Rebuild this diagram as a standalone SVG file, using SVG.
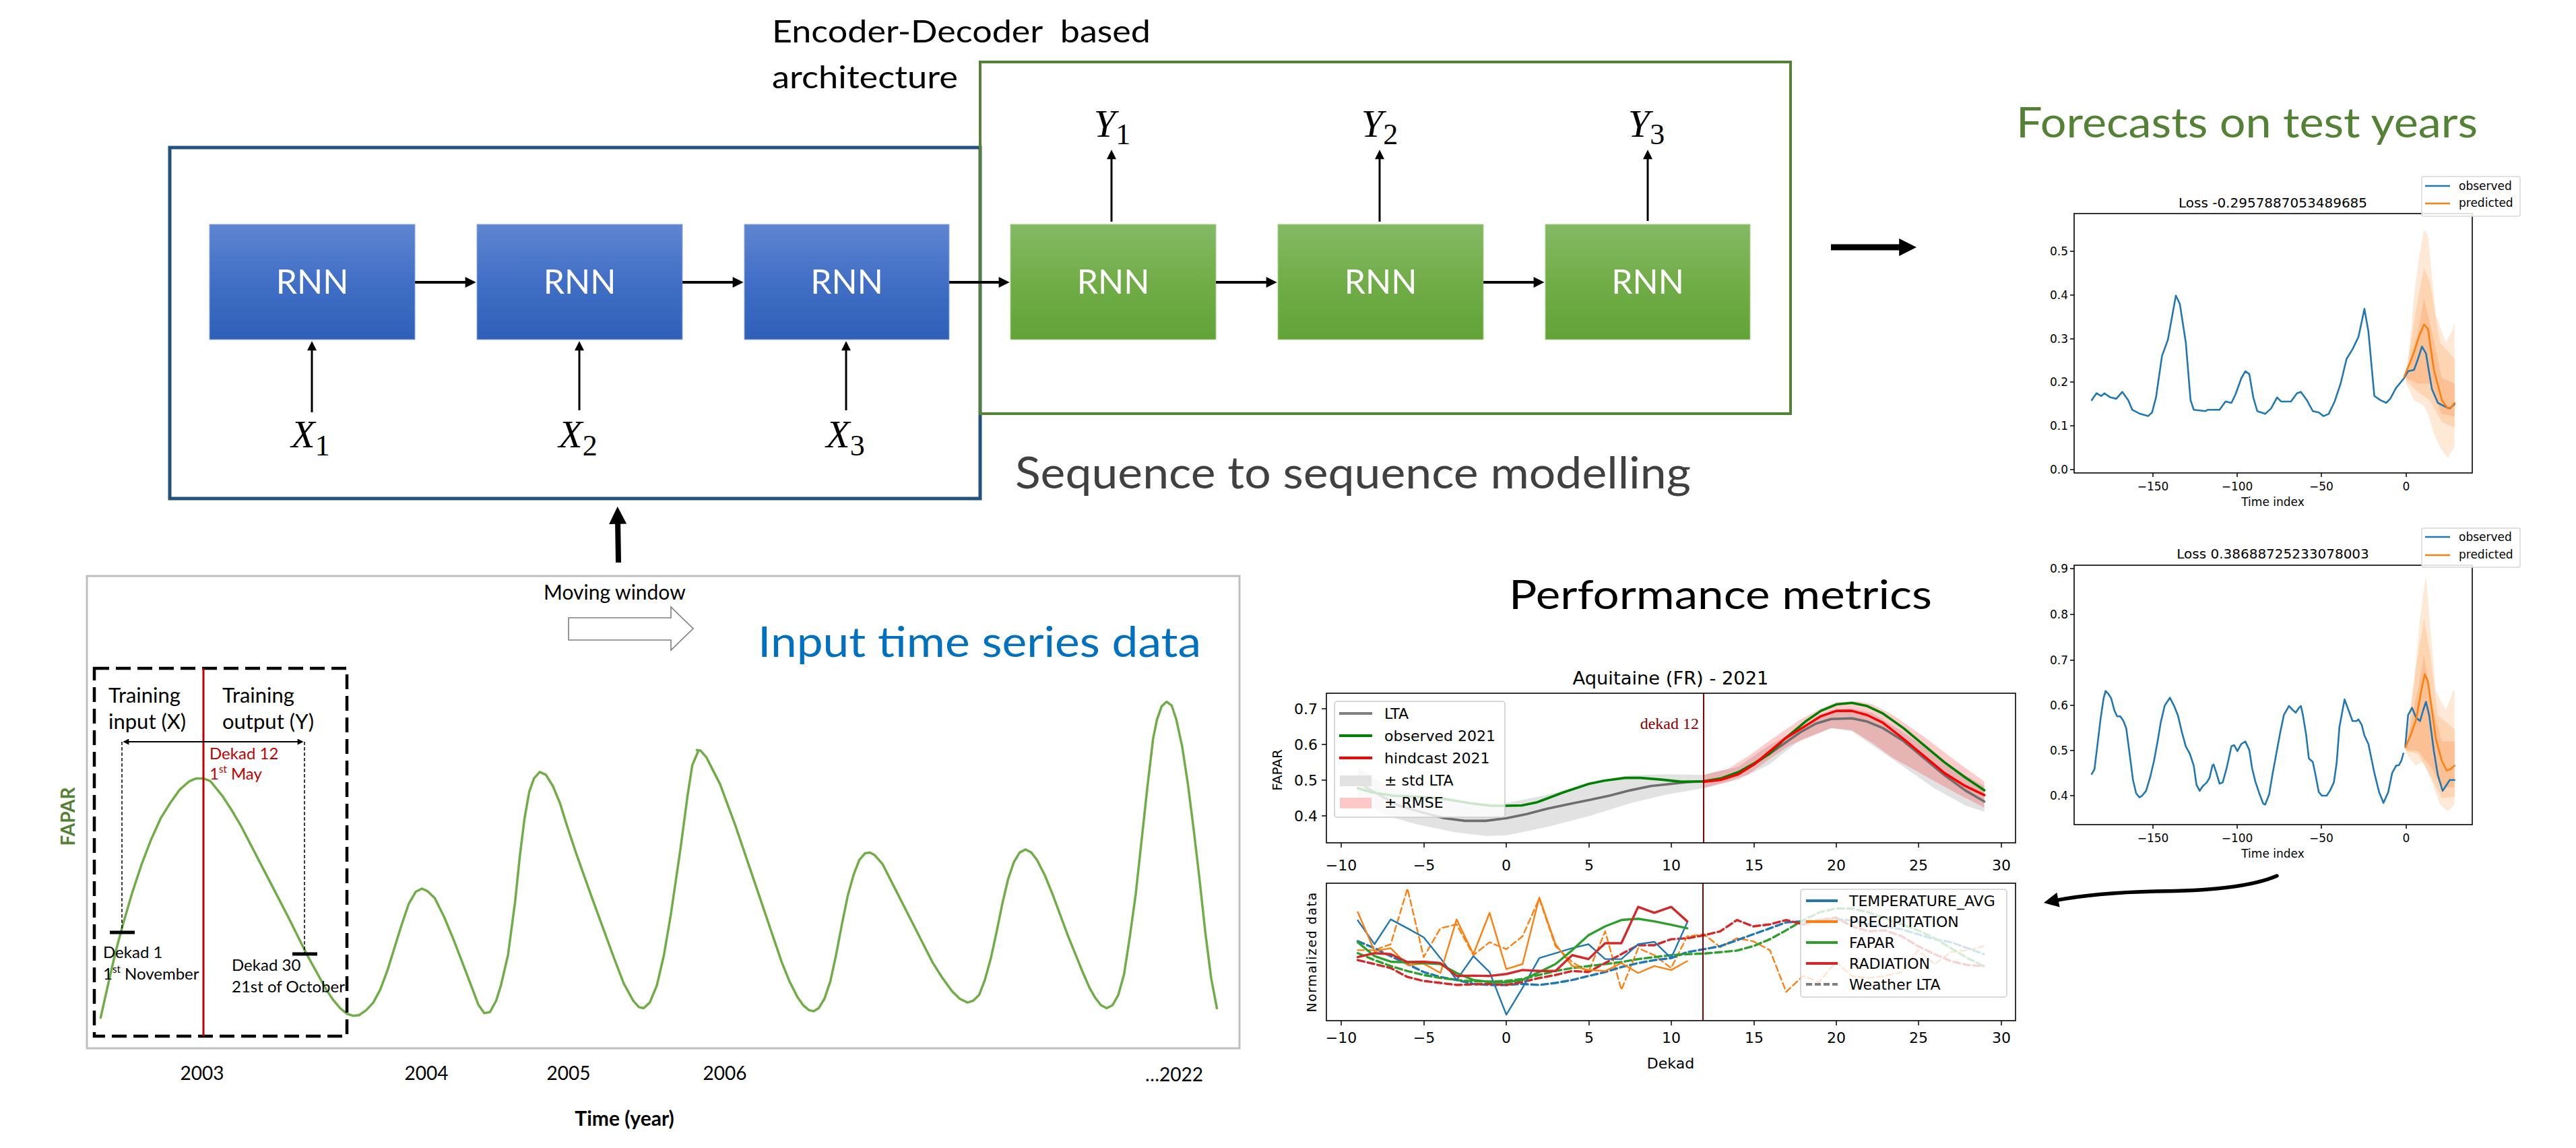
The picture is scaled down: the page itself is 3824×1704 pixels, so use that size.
<svg xmlns="http://www.w3.org/2000/svg" width="3824" height="1704" viewBox="0 0 3824 1704">
<defs>
<style>
.cal{font-family:Lato,"Open Sans",sans-serif}
.mpl{font-family:"DejaVu Sans",sans-serif}
.math{font-family:"Liberation Serif",serif;font-style:italic;font-size:58px}
.sub{font-size:44px;font-style:normal}
.rnn{font-family:Lato,"Open Sans",sans-serif;font-size:50px;fill:#fff;text-anchor:middle}
.ns{vector-effect:non-scaling-stroke;fill:none;stroke-linejoin:round;stroke-linecap:round}
.ax{fill:none;stroke:#000;stroke-width:1.6}
.tk{stroke:#000;stroke-width:1.5}
.t16{font-size:17px}
.t22{font-size:22px}
</style>
<linearGradient id="gBlue" x1="0" y1="0" x2="0" y2="1"><stop offset="0" stop-color="#5f85cf"/><stop offset="0.5" stop-color="#416fc6"/><stop offset="1" stop-color="#2f5fb7"/></linearGradient>
<linearGradient id="gGreen" x1="0" y1="0" x2="0" y2="1"><stop offset="0" stop-color="#84b965"/><stop offset="0.5" stop-color="#71ad47"/><stop offset="1" stop-color="#62a338"/></linearGradient>
<marker id="ah" viewBox="0 0 10 10" refX="3" refY="5" markerWidth="18" markerHeight="16" markerUnits="userSpaceOnUse" orient="auto"><path d="M0,0L10,5L0,10z" fill="#000"/></marker>
<marker id="ahs" viewBox="0 0 10 10" refX="3" refY="5" markerWidth="17" markerHeight="14" markerUnits="userSpaceOnUse" orient="auto"><path d="M0,0L10,5L0,10z" fill="#000"/></marker>
<marker id="ahb" viewBox="0 0 10 10" refX="3" refY="5" markerWidth="26" markerHeight="26" markerUnits="userSpaceOnUse" orient="auto"><path d="M0,0L10,5L0,10z" fill="#000"/></marker>
<marker id="ahc" viewBox="0 0 10 10" refX="3" refY="5" markerWidth="24" markerHeight="22" markerUnits="userSpaceOnUse" orient="auto"><path d="M0,0L10,5L0,10z" fill="#000"/></marker>
<marker id="aht" viewBox="0 0 10 10" refX="3" refY="5" markerWidth="11" markerHeight="9" markerUnits="userSpaceOnUse" orient="auto-start-reverse"><path d="M0,0L10,5L0,10z" fill="#000"/></marker>
</defs>
<rect width="3824" height="1704" fill="#fff"/>

<!-- Encoder-decoder frames -->
<g id="encoder-frame"><rect x="252" y="219" width="1203" height="521" fill="none" stroke="#22507f" stroke-width="5"/></g>
<g id="decoder-frame"><rect x="1455" y="92" width="1203" height="522" fill="none" stroke="#548235" stroke-width="4"/></g>
<g id="title-encdec"><text class="cal" x="1146" y="63" font-size="46" xml:space="preserve" style="white-space:pre" textLength="562" lengthAdjust="spacingAndGlyphs">Encoder-Decoder  based</text><text class="cal" x="1146" y="131" font-size="46" textLength="276" lengthAdjust="spacingAndGlyphs">architecture</text></g>

<!-- encoder RNNs -->
<g id="enc1"><rect x="311" y="333" width="305" height="171" fill="url(#gBlue)" stroke="#8faadc" stroke-width="1"/><text class="rnn" x="463.5" y="436">RNN</text></g>
<g id="enc2"><rect x="708" y="333" width="305" height="171" fill="url(#gBlue)" stroke="#8faadc" stroke-width="1"/><text class="rnn" x="860.5" y="436">RNN</text></g>
<g id="enc3"><rect x="1105" y="333" width="304" height="171" fill="url(#gBlue)" stroke="#8faadc" stroke-width="1"/><text class="rnn" x="1257" y="436">RNN</text></g>
<!-- decoder RNNs -->
<g id="dec1"><rect x="1500" y="333" width="305" height="171" fill="url(#gGreen)" stroke="#a9d18e" stroke-width="1"/><text class="rnn" x="1652.5" y="436">RNN</text></g>
<g id="dec2"><rect x="1897" y="333" width="305" height="171" fill="url(#gGreen)" stroke="#a9d18e" stroke-width="1"/><text class="rnn" x="2049.5" y="436">RNN</text></g>
<g id="dec3"><rect x="2294" y="333" width="304" height="171" fill="url(#gGreen)" stroke="#a9d18e" stroke-width="1"/><text class="rnn" x="2446" y="436">RNN</text></g>

<!-- X / Y labels -->
<g id="x1"><text class="math" x="461" y="664" text-anchor="middle">X<tspan class="sub" dy="12">1</tspan></text></g>
<g id="x2"><text class="math" x="858" y="664" text-anchor="middle">X<tspan class="sub" dy="12">2</tspan></text></g>
<g id="x3"><text class="math" x="1255" y="664" text-anchor="middle">X<tspan class="sub" dy="12">3</tspan></text></g>
<g id="y1"><text class="math" x="1651" y="203" text-anchor="middle">Y<tspan class="sub" dy="11">1</tspan></text></g>
<g id="y2"><text class="math" x="2048" y="203" text-anchor="middle">Y<tspan class="sub" dy="11">2</tspan></text></g>
<g id="y3"><text class="math" x="2444" y="203" text-anchor="middle">Y<tspan class="sub" dy="11">3</tspan></text></g>

<g id="seq-title"><text class="cal" x="1507" y="725" font-size="65" fill="#404040" textLength="1003" lengthAdjust="spacingAndGlyphs">Sequence to sequence modelling</text></g>

<!-- connectors -->
<g id="connectors" stroke="#000" fill="none">
<line x1="616" y1="419" x2="695.4" y2="419" stroke-width="4" marker-end="url(#ah)"/>
<line x1="1013" y1="419" x2="1092.4" y2="419" stroke-width="4" marker-end="url(#ah)"/>
<line x1="1409" y1="419" x2="1487.4" y2="419" stroke-width="4" marker-end="url(#ah)"/>
<line x1="1805" y1="419" x2="1884.4" y2="419" stroke-width="4" marker-end="url(#ah)"/>
<line x1="2202" y1="419" x2="2281.4" y2="419" stroke-width="4" marker-end="url(#ah)"/>
<line x1="463" y1="612" x2="463" y2="516" stroke-width="3" marker-end="url(#ahs)"/>
<line x1="860" y1="609" x2="860" y2="516" stroke-width="3" marker-end="url(#ahs)"/>
<line x1="1256" y1="609" x2="1256" y2="516" stroke-width="3" marker-end="url(#ahs)"/>
<line x1="1650" y1="329" x2="1650" y2="232" stroke-width="3" marker-end="url(#ahs)"/>
<line x1="2048" y1="329" x2="2048" y2="232" stroke-width="3" marker-end="url(#ahs)"/>
<line x1="2446" y1="328" x2="2446" y2="232" stroke-width="3" marker-end="url(#ahs)"/>
<line x1="918" y1="835" x2="917" y2="770" stroke-width="8" marker-end="url(#ahb)"/>
<line x1="2718" y1="367" x2="2827" y2="367" stroke-width="9" marker-end="url(#ahb)"/>
<path d="M3380,1300 Q3330,1322 3200,1323 Q3110,1325 3049,1337" stroke-width="5.5" stroke-linecap="round" marker-end="url(#ahc)"/>
</g>

<!-- Forecasts -->
<g id="forecast-title"><text class="cal" x="2993" y="204" font-size="62" fill="#548235" textLength="685" lengthAdjust="spacingAndGlyphs">Forecasts on test years</text></g>

<g id="forecast-plot-1">
<g transform="translate(2900,100) scale(0.5893,0.4082)">
<polygon fill="#fee8d6" points="1140,1120 1150,1000 1160,830 1172,700 1185,590 1195,610 1205,760 1215,900 1240,1000 1255,960 1262,930 1262,1380 1245,1420 1225,1380 1210,1330 1195,1260 1185,1230 1160,1210 1140,1150"/>
<polygon fill="#fdd5b2" points="1140,1110 1165,880 1185,730 1200,780 1225,1000 1262,1060 1262,1310 1230,1290 1200,1210 1170,1180 1140,1140"/>
<polygon fill="#fbc195" points="1140,1120 1170,960 1185,840 1205,960 1230,1130 1262,1150 1262,1270 1230,1260 1200,1150 1170,1150 1140,1130"/>
<polyline class="ns" stroke="#1f77b4" stroke-width="2.6" points="348,1210 360,1185 372,1195 380,1185 395,1200 410,1205 425,1180 440,1210 450,1245 470,1260 490,1268 500,1255 510,1200 525,1050 540,990 560,830 570,860 585,1000 597,1210 605,1245 635,1250 640,1245 670,1245 685,1215 700,1220 710,1190 725,1130 735,1105 745,1115 755,1200 765,1250 775,1255 785,1260 800,1240 815,1200 825,1215 850,1215 865,1185 875,1180 890,1210 905,1250 920,1255 932,1268 945,1260 960,1215 975,1150 990,1060 1005,1025 1020,980 1035,878 1045,960 1060,1195 1075,1210 1090,1220 1100,1205 1115,1165 1135,1130 1145,1105 1160,1100 1170,1060 1180,1015 1190,1040 1205,1170 1220,1220 1240,1235 1250,1240 1262,1225"/>
<polyline class="ns" stroke="#ff7f0e" stroke-width="2.6" points="1135,1125 1148,1080 1160,1035 1172,980 1185,935 1195,950 1210,1100 1230,1210 1245,1240 1255,1235 1262,1220"/>
</g>
<rect class="ax" x="3079" y="317" width="591" height="385"/>
<g class="mpl t16" text-anchor="end">
<line class="tk" x1="3073" y1="697" x2="3079" y2="697"/><text x="3070" y="703">0.0</text>
<line class="tk" x1="3073" y1="632" x2="3079" y2="632"/><text x="3070" y="638">0.1</text>
<line class="tk" x1="3073" y1="567" x2="3079" y2="567"/><text x="3070" y="573">0.2</text>
<line class="tk" x1="3073" y1="503" x2="3079" y2="503"/><text x="3070" y="509">0.3</text>
<line class="tk" x1="3073" y1="438" x2="3079" y2="438"/><text x="3070" y="444">0.4</text>
<line class="tk" x1="3073" y1="373" x2="3079" y2="373"/><text x="3070" y="379">0.5</text>
</g>
<g class="mpl t16" text-anchor="middle">
<line class="tk" x1="3196" y1="702" x2="3196" y2="708"/><text x="3196" y="728">−150</text>
<line class="tk" x1="3321" y1="702" x2="3321" y2="708"/><text x="3321" y="728">−100</text>
<line class="tk" x1="3446" y1="702" x2="3446" y2="708"/><text x="3446" y="728">−50</text>
<line class="tk" x1="3572" y1="702" x2="3572" y2="708"/><text x="3572" y="728">0</text>
<text x="3374" y="751">Time index</text>
<text x="3374" y="308" font-size="20">Loss -0.2957887053489685</text>
</g>
<rect x="3595" y="262" width="146" height="59" rx="3" fill="#fff" fill-opacity="0.85" stroke="#d8d8d8" stroke-width="1.5"/>
<line x1="3600" y1="276" x2="3637" y2="276" stroke="#1f77b4" stroke-width="2.6"/>
<line x1="3600" y1="302" x2="3637" y2="302" stroke="#ff7f0e" stroke-width="2.6"/>
<text class="mpl t16" x="3650" y="282">observed</text>
<text class="mpl t16" x="3650" y="307">predicted</text>
</g>

<g id="forecast-plot-2">
<g transform="translate(2900,740) scale(0.5893,0.3571)">
<polygon fill="#fee8d6" points="1140,1010 1160,760 1175,500 1190,320 1200,520 1215,800 1240,880 1258,800 1262,800 1262,1270 1245,1300 1225,1270 1210,1200 1185,1090 1165,1110 1140,1060"/>
<polygon fill="#fdd5b2" points="1140,1020 1165,700 1185,500 1200,640 1220,900 1262,960 1262,1240 1230,1245 1200,1150 1170,1060 1140,1050"/>
<polygon fill="#fbc195" points="1140,1030 1170,790 1185,650 1205,850 1230,1010 1262,1010 1262,1200 1230,1200 1205,1120 1170,1050 1140,1045"/>
<polyline class="ns" stroke="#1f77b4" stroke-width="2.6" points="348,1145 355,1125 362,1030 370,920 378,830 383,800 390,812 397,830 405,880 412,905 420,905 428,925 435,955 445,1080 452,1170 460,1225 468,1242 475,1235 485,1215 495,1160 505,1090 515,1000 522,930 532,860 545,828 555,860 565,900 575,970 585,1030 595,1060 605,1110 612,1190 620,1215 628,1195 638,1180 645,1160 652,1110 655,1105 662,1140 670,1185 678,1180 688,1120 700,1030 707,1025 715,1050 725,1020 735,1010 745,1045 752,1120 760,1175 770,1225 780,1268 785,1272 795,1230 803,1150 812,1070 822,980 832,900 845,862 855,880 862,890 870,870 875,862 880,900 888,980 895,1080 905,1095 912,1150 920,1220 928,1235 940,1235 948,1215 958,1180 965,1100 972,950 985,835 995,880 1005,925 1015,925 1020,918 1028,940 1035,985 1045,1020 1060,1140 1072,1220 1083,1265 1095,1220 1105,1140 1115,1110 1122,1108 1128,1090 1133,1060"/>
<polyline class="ns" stroke="#1f77b4" stroke-width="2.6" points="1138,1030 1145,900 1155,870 1165,910 1175,925 1183,880 1190,845 1198,900 1210,1050 1220,1150 1232,1215 1240,1195 1250,1170 1262,1170"/>
<polyline class="ns" stroke="#ff7f0e" stroke-width="2.6" points="1138,1035 1150,990 1165,920 1178,800 1187,730 1195,760 1205,880 1215,1000 1230,1090 1242,1130 1252,1125 1262,1110"/>
</g>
<rect class="ax" x="3079" y="839" width="591" height="385"/>
<g class="mpl t16" text-anchor="end">
<line class="tk" x1="3073" y1="1181" x2="3079" y2="1181"/><text x="3070" y="1187">0.4</text>
<line class="tk" x1="3073" y1="1114" x2="3079" y2="1114"/><text x="3070" y="1120">0.5</text>
<line class="tk" x1="3073" y1="1047" x2="3079" y2="1047"/><text x="3070" y="1053">0.6</text>
<line class="tk" x1="3073" y1="980" x2="3079" y2="980"/><text x="3070" y="986">0.7</text>
<line class="tk" x1="3073" y1="912" x2="3079" y2="912"/><text x="3070" y="918">0.8</text>
<line class="tk" x1="3073" y1="844" x2="3079" y2="844"/><text x="3070" y="850">0.9</text>
</g>
<g class="mpl t16" text-anchor="middle">
<line class="tk" x1="3196" y1="1224" x2="3196" y2="1230"/><text x="3196" y="1250">−150</text>
<line class="tk" x1="3321" y1="1224" x2="3321" y2="1230"/><text x="3321" y="1250">−100</text>
<line class="tk" x1="3446" y1="1224" x2="3446" y2="1230"/><text x="3446" y="1250">−50</text>
<line class="tk" x1="3572" y1="1224" x2="3572" y2="1230"/><text x="3572" y="1250">0</text>
<text x="3374" y="1273">Time index</text>
<text x="3374" y="829" font-size="20">Loss 0.38688725233078003</text>
</g>
<rect x="3595" y="784" width="146" height="58" rx="3" fill="#fff" fill-opacity="0.85" stroke="#d8d8d8" stroke-width="1.5"/>
<line x1="3600" y1="797" x2="3637" y2="797" stroke="#1f77b4" stroke-width="2.6"/>
<line x1="3600" y1="824" x2="3637" y2="824" stroke="#ff7f0e" stroke-width="2.6"/>
<text class="mpl t16" x="3650" y="803">observed</text>
<text class="mpl t16" x="3650" y="829">predicted</text>
</g>

<!-- Performance metrics -->
<g id="perf-title"><text class="cal" x="2240" y="904" font-size="60" fill="#000" textLength="628" lengthAdjust="spacingAndGlyphs">Performance metrics</text></g>

<g id="aquitaine-plot">
<text class="mpl" x="2480" y="1016" font-size="26" text-anchor="middle" textLength="291" lengthAdjust="spacingAndGlyphs">Aquitaine (FR) - 2021</text>
<g transform="translate(1800,800) scale(0.7653,0.3189)">
<polygon fill="#e2e2e2" points="282,1060 330,1140 400,1195 470,1225 570,1230 650,1190 730,1140 810,1100 880,1095 952,1098 1020,1060 1080,960 1140,880 1200,800 1240,790 1280,810 1340,900 1400,1000 1460,1100 1497,1150 1497,1270 1460,1240 1400,1160 1340,1060 1280,960 1240,895 1200,880 1140,935 1080,1050 1020,1120 952,1160 880,1190 810,1230 730,1290 650,1340 570,1380 530,1382 470,1365 400,1330 340,1290 282,1210"/>
<polygon fill="#ff0000" fill-opacity="0.2" points="952,1098 1000,1070 1040,1010 1080,940 1140,840 1180,790 1210,760 1250,755 1280,770 1320,820 1380,920 1440,1030 1497,1130 1497,1250 1440,1180 1380,1100 1320,1020 1280,950 1240,890 1200,880 1160,920 1120,960 1080,1025 1040,1095 1000,1130 952,1160"/>
<polyline class="ns" stroke="#6e6e6e" stroke-width="3.6" points="282,1128 300,1160 330,1200 360,1240 410,1275 450,1300 490,1312 530,1312 570,1300 610,1280 650,1255 690,1235 730,1215 770,1195 810,1170 850,1150 890,1140 920,1132 952,1128 990,1115 1020,1090 1050,1050 1080,1000 1110,950 1140,900 1170,860 1200,838 1240,835 1270,850 1300,880 1340,940 1380,1020 1420,1100 1460,1170 1497,1222"/>
<polyline class="ns" stroke="#008000" stroke-width="3.6" points="282,1160 310,1180 350,1195 400,1200 450,1210 500,1230 540,1242 570,1242 600,1240 630,1225 680,1180 730,1140 760,1125 800,1112 830,1112 870,1120 910,1130 952,1128 985,1115 1020,1085 1050,1045 1080,1000 1110,930 1150,850 1180,800 1210,770 1240,763 1270,778 1300,812 1340,880 1380,960 1420,1040 1460,1110 1497,1170"/>
<polyline class="ns" stroke="#ff0000" stroke-width="3.6" points="952,1130 985,1122 1020,1095 1050,1050 1080,990 1110,930 1150,870 1180,825 1210,800 1240,800 1270,820 1300,855 1340,930 1380,1010 1420,1090 1460,1150 1497,1192"/>
</g>
<line x1="2529" y1="1029" x2="2529" y2="1251" stroke="#8b0000" stroke-width="2"/>
<text x="2522" y="1082" font-family="Liberation Serif,serif" font-size="24" fill="#8b0000" text-anchor="end">dekad 12</text>
<rect x="1981" y="1041" width="253" height="172" rx="4" fill="#fff" fill-opacity="0.8" stroke="#cccccc" stroke-width="1.5"/>
<line x1="1988" y1="1059" x2="2037" y2="1059" stroke="#808080" stroke-width="4"/>
<line x1="1988" y1="1092" x2="2037" y2="1092" stroke="#008000" stroke-width="4"/>
<line x1="1988" y1="1125" x2="2037" y2="1125" stroke="#ff0000" stroke-width="4"/>
<rect x="1989" y="1151" width="47" height="16" fill="#e2e2e2"/>
<rect x="1989" y="1184" width="47" height="16" fill="#fcc8c8"/>
<g class="mpl t22">
<text x="2055" y="1067">LTA</text>
<text x="2055" y="1100">observed 2021</text>
<text x="2055" y="1133">hindcast 2021</text>
<text x="2055" y="1166">± std LTA</text>
<text x="2055" y="1199">± RMSE</text>
</g>
<rect class="ax" x="1969" y="1029" width="1023" height="222"/>
<g class="mpl t22" text-anchor="end">
<line class="tk" x1="1962" y1="1052" x2="1969" y2="1052"/><text x="1956" y="1060">0.7</text>
<line class="tk" x1="1962" y1="1105" x2="1969" y2="1105"/><text x="1956" y="1113">0.6</text>
<line class="tk" x1="1962" y1="1158" x2="1969" y2="1158"/><text x="1956" y="1166">0.5</text>
<line class="tk" x1="1962" y1="1211" x2="1969" y2="1211"/><text x="1956" y="1219">0.4</text>
</g>
<text class="mpl" x="1903" y="1143" font-size="20" text-anchor="middle" transform="rotate(-90 1903 1143)">FAPAR</text>
<g class="mpl t22" text-anchor="middle">
<line class="tk" x1="1991" y1="1251" x2="1991" y2="1258"/><text x="1991" y="1292">−10</text>
<line class="tk" x1="2114" y1="1251" x2="2114" y2="1258"/><text x="2114" y="1292">−5</text>
<line class="tk" x1="2236" y1="1251" x2="2236" y2="1258"/><text x="2236" y="1292">0</text>
<line class="tk" x1="2359" y1="1251" x2="2359" y2="1258"/><text x="2359" y="1292">5</text>
<line class="tk" x1="2481" y1="1251" x2="2481" y2="1258"/><text x="2481" y="1292">10</text>
<line class="tk" x1="2604" y1="1251" x2="2604" y2="1258"/><text x="2604" y="1292">15</text>
<line class="tk" x1="2726" y1="1251" x2="2726" y2="1258"/><text x="2726" y="1292">20</text>
<line class="tk" x1="2848" y1="1251" x2="2848" y2="1258"/><text x="2848" y="1292">25</text>
<line class="tk" x1="2971" y1="1251" x2="2971" y2="1258"/><text x="2971" y="1292">30</text>
</g>
</g>

<g id="weather-plot">
<g transform="translate(1800,1277.7) scale(0.8291,0.2948)">
<polyline class="ns" stroke="#ff7f0e" stroke-width="2.4" stroke-dasharray="9 5" points="260,450 290,450 319,420 349,140 378,485 408,340 437,320 467,475 496,410 526,445 555,380 585,190 614,430 644,510 673,560 703,355 732,650 762,440 791,475 821,540 850,380 880,370 909,435 939,390 968,405 998,450 1027,660 1057,580 1086,610 1116,510 1145,580 1175,590 1204,580 1234,560 1263,450 1293,520 1322,460 1352,450 1381,430"/>
<polyline class="ns" stroke="#1f77b4" stroke-width="3.4" stroke-dasharray="10 5" points="260,405 290,440 319,480 349,520 378,560 408,585 437,600 467,620 496,625 526,625 555,620 585,625 614,615 644,600 673,580 703,560 732,535 762,515 791,500 821,490 850,460 880,445 909,430 939,400 968,370 998,340 1027,310 1057,305 1086,298 1116,295 1145,300 1175,320 1204,330 1234,345 1263,370 1293,395 1322,410 1352,440 1381,470"/>
<polyline class="ns" stroke="#2ca02c" stroke-width="3.4" stroke-dasharray="10 5" points="260,465 290,500 319,530 349,555 378,575 408,590 437,600 467,607 496,608 526,605 555,595 585,575 614,555 644,540 673,530 703,520 732,510 762,495 791,485 821,475 850,470 880,467 909,460 939,452 968,430 998,395 1027,350 1057,300 1086,260 1116,240 1145,240 1175,260 1204,290 1234,320 1263,350 1293,390 1322,440 1352,490 1381,530"/>
<polyline class="ns" stroke="#d62728" stroke-width="3.4" stroke-dasharray="10 5" points="260,500 290,520 319,540 349,585 378,605 408,615 437,625 467,622 496,620 526,625 555,610 585,590 614,575 644,555 673,560 703,515 732,470 762,425 791,425 821,395 850,390 880,375 909,355 939,298 968,330 998,320 1027,298 1057,320 1086,300 1116,285 1145,330 1175,355 1204,350 1234,380 1263,430 1293,470 1322,505 1352,525 1381,530"/>
<polyline class="ns" stroke="#1f77b4" stroke-width="2.4" points="260,300 290,420 319,295 349,340 378,385 408,490 437,600 467,480 496,560 526,775 555,640 585,490 614,465 644,440 673,420 703,495 732,495 762,420 791,408 821,490 850,310"/>
<polyline class="ns" stroke="#ff7f0e" stroke-width="2.4" points="260,258 290,455 319,440 349,525 378,518 408,565 437,295 467,470 496,262 526,545 555,520 585,185 614,420 644,530 673,550 703,555 732,515 762,565 791,530 821,550 850,505"/>
<polyline class="ns" stroke="#2ca02c" stroke-width="3.4" points="260,410 290,480 319,508 349,512 378,515 408,520 437,565 467,600 496,610 526,612 555,600 585,560 614,520 644,450 673,375 703,330 732,298 762,292 791,305 821,322 850,340"/>
<polyline class="ns" stroke="#d62728" stroke-width="3.4" points="260,485 290,465 319,470 349,510 378,508 408,515 437,580 467,578 496,580 526,570 555,550 585,555 614,555 644,475 673,495 703,415 732,415 762,232 791,262 821,232 850,305"/>
</g>
<line x1="2528" y1="1311" x2="2528" y2="1515" stroke="#8b0000" stroke-width="2"/>
<rect x="2673" y="1320" width="306" height="160" rx="4" fill="#fff" fill-opacity="0.8" stroke="#cccccc" stroke-width="1.5"/>
<line x1="2681" y1="1337" x2="2728" y2="1337" stroke="#1f77b4" stroke-width="4"/>
<line x1="2681" y1="1368" x2="2728" y2="1368" stroke="#ff7f0e" stroke-width="4"/>
<line x1="2681" y1="1399" x2="2728" y2="1399" stroke="#2ca02c" stroke-width="4"/>
<line x1="2681" y1="1430" x2="2728" y2="1430" stroke="#d62728" stroke-width="4"/>
<line x1="2681" y1="1461" x2="2728" y2="1461" stroke="#808080" stroke-width="4" stroke-dasharray="9 4"/>
<g class="mpl t22">
<text x="2745" y="1345">TEMPERATURE_AVG</text>
<text x="2745" y="1376">PRECIPITATION</text>
<text x="2745" y="1407">FAPAR</text>
<text x="2745" y="1438">RADIATION</text>
<text x="2745" y="1469">Weather LTA</text>
</g>
<rect class="ax" x="1969" y="1311" width="1023" height="204"/>
<g class="mpl t22" text-anchor="middle">
<line class="tk" x1="1991" y1="1515" x2="1991" y2="1522"/><text x="1991" y="1548">−10</text>
<line class="tk" x1="2114" y1="1515" x2="2114" y2="1522"/><text x="2114" y="1548">−5</text>
<line class="tk" x1="2236" y1="1515" x2="2236" y2="1522"/><text x="2236" y="1548">0</text>
<line class="tk" x1="2359" y1="1515" x2="2359" y2="1522"/><text x="2359" y="1548">5</text>
<line class="tk" x1="2481" y1="1515" x2="2481" y2="1522"/><text x="2481" y="1548">10</text>
<line class="tk" x1="2604" y1="1515" x2="2604" y2="1522"/><text x="2604" y="1548">15</text>
<line class="tk" x1="2726" y1="1515" x2="2726" y2="1522"/><text x="2726" y="1548">20</text>
<line class="tk" x1="2848" y1="1515" x2="2848" y2="1522"/><text x="2848" y="1548">25</text>
<line class="tk" x1="2971" y1="1515" x2="2971" y2="1522"/><text x="2971" y="1548">30</text>
<text x="2480" y="1586">Dekad</text>
</g>
<text class="mpl" x="1954" y="1413" font-size="19" text-anchor="middle" letter-spacing="1.5" transform="rotate(-90 1954 1413)">Normalized data</text>
</g>

<!-- Input time series -->
<g id="timeseries">
<rect x="129" y="855" width="1711" height="701" fill="none" stroke="#bfbfbf" stroke-width="3"/>
<text class="cal" x="807" y="890" font-size="30">Moving window</text>
<polygon points="844,917 996,917 996,901 1029,933 996,965 996,950 844,950" fill="#fff" stroke="#7f7f7f" stroke-width="1.6"/>
<text class="cal" x="1125" y="975" font-size="62" fill="#0070c0" textLength="658" lengthAdjust="spacingAndGlyphs">Input time series data</text>
<g transform="translate(0,820) scale(0.7015,0.5638)">
<polyline class="ns" stroke="#70ad47" stroke-width="3.5" points="213,1225 230,1130 245,1050 260,980 280,895 300,820 320,755 340,700 360,660 380,625 400,603 415,595 430,595 445,602 470,640 490,678 510,720 535,780 560,840 585,900 610,960 630,1010 650,1060 670,1105 690,1150 705,1178 720,1200 735,1215 748,1220 760,1218 775,1205 790,1185 805,1150 820,1100 835,1040 850,980 865,925 880,893 893,885 905,892 920,910 940,960 960,1020 980,1085 1000,1150 1012,1190 1025,1213 1037,1210 1050,1180 1060,1140 1075,1060 1090,920 1100,800 1110,700 1120,630 1130,595 1142,578 1155,585 1170,615 1185,660 1200,720 1220,795 1250,900 1275,985 1300,1070 1320,1135 1340,1180 1352,1197 1362,1200 1375,1185 1390,1140 1405,1060 1420,950 1440,780 1455,640 1465,560 1478,522"/>
</g>
<g transform="translate(1000,820) scale(0.5740,0.5638)">
<polyline class="ns" stroke="#70ad47" stroke-width="3.5" points="60,520 70,522 85,540 100,570 120,610 140,665 160,720 180,780 200,840 220,900 240,960 260,1020 280,1080 300,1130 320,1170 335,1192 350,1205 362,1208 375,1200 390,1175 405,1130 420,1060 435,980 450,905 465,850 480,810 495,792 508,790 520,797 540,820 570,880 600,940 620,980 645,1030 670,1080 695,1120 720,1155 740,1175 760,1185 775,1180 790,1165 805,1125 820,1070 835,1000 850,925 865,860 880,815 895,790 910,782 925,790 940,810 960,850 980,900 1000,955 1020,1010 1040,1060 1060,1110 1075,1145 1090,1172 1105,1192 1120,1200 1135,1192 1150,1165 1165,1110 1180,1010 1195,900 1210,760 1225,620 1240,490 1250,440 1262,405 1275,393 1288,403 1300,440 1315,510 1330,610 1345,730 1360,860 1375,1000 1390,1120 1405,1200"/>
</g>
<rect x="140" y="992" width="375" height="546" fill="none" stroke="#000" stroke-width="4.5" stroke-dasharray="22 10"/>
<line x1="302" y1="992" x2="302" y2="1538" stroke="#c00000" stroke-width="3"/>
<g class="cal" font-size="31">
<text x="161" y="1043">Training</text>
<text x="161" y="1082">input (X)</text>
<text x="330" y="1043">Training</text>
<text x="330" y="1082">output (Y)</text>
</g>
<line x1="188.7" y1="1101" x2="444.3" y2="1101" stroke="#000" stroke-width="2" marker-start="url(#aht)" marker-end="url(#aht)"/>
<line x1="181" y1="1101" x2="181" y2="1384" stroke="#000" stroke-width="1.5" stroke-dasharray="5 3"/>
<line x1="452" y1="1101" x2="452" y2="1416" stroke="#000" stroke-width="1.5" stroke-dasharray="5 3"/>
<line x1="163" y1="1384" x2="200" y2="1384" stroke="#000" stroke-width="5"/>
<line x1="434" y1="1416" x2="471" y2="1416" stroke="#000" stroke-width="5"/>
<g class="cal" font-size="24" fill="#c00000">
<text x="311" y="1127">Dekad 12</text>
<text x="311" y="1157">1<tspan font-size="15" dy="-10">st</tspan><tspan dy="10"> May</tspan></text>
</g>
<g class="cal" font-size="24" fill="#000">
<text x="153" y="1422">Dekad 1</text>
<text x="153" y="1454">1<tspan font-size="15" dy="-10">st</tspan><tspan dy="10"> November</tspan></text>
<text x="344" y="1441">Dekad 30</text>
<text x="344" y="1473">21st of October</text>
</g>
<text class="cal" x="111" y="1212" font-size="28" font-weight="bold" fill="#548235" text-anchor="middle" transform="rotate(-90 111 1212)">FAPAR</text>
<g class="cal" font-size="28" text-anchor="middle">
<text x="300" y="1603">2003</text>
<text x="633" y="1603">2004</text>
<text x="844" y="1603">2005</text>
<text x="1076" y="1603">2006</text>
<text x="1743" y="1605">…2022</text>
</g>
<text class="cal" x="927" y="1671" font-size="30" font-weight="bold" text-anchor="middle">Time (year)</text>
</g>
</svg>
